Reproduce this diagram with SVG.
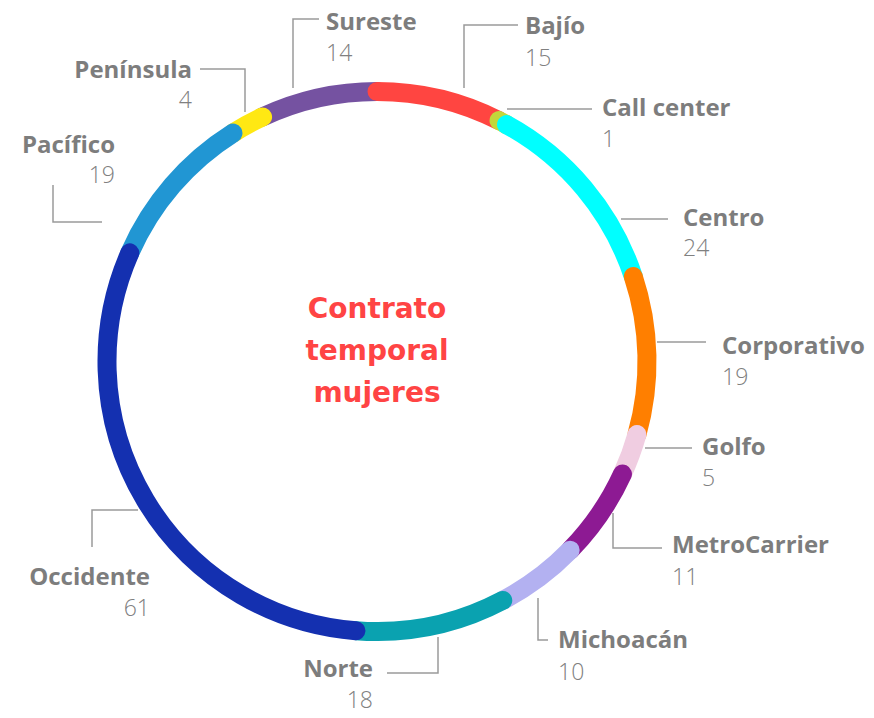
<svg xmlns="http://www.w3.org/2000/svg" width="874" height="718" viewBox="0 0 874 718">
<style>
.seg{fill:none;stroke-width:19;stroke-linecap:round}
.lead{fill:none;stroke:#9a9a9a;stroke-width:1.5}
.name{font-family:"Open Sans","Liberation Sans",sans-serif;font-weight:700;font-size:24px;fill:#7d7d7d}
.num{font-family:"Open Sans","Liberation Sans",sans-serif;font-weight:300;font-size:23px;fill:#808080}
.end{text-anchor:end}
.title{font-family:"DejaVu Sans","Liberation Sans",sans-serif;font-weight:700;font-size:28px;fill:#ff4444;text-anchor:middle}
</style>
<rect width="874" height="718" fill="#ffffff"/>
<g id="ring">
<path id="seg-sureste" class="seg" stroke="#7552a1" d="M262.57,116.94 A270,270 0 0 1 377,91.5"/>
<path id="seg-peninsula" class="seg" stroke="#ffe813" d="M232.97,133.12 A270,270 0 0 1 262.57,116.94"/>
<path id="seg-pacifico" class="seg" stroke="#2196d3" d="M129.83,252.84 A270,270 0 0 1 232.97,133.12"/>
<path id="seg-bajio" class="seg" stroke="#ff4541" d="M377,91.5 A270,270 0 0 1 499.01,120.64"/>
<path id="seg-callcenter" class="seg" stroke="#c2d73b" d="M499.01,120.64 A270,270 0 0 1 506.48,124.57"/>
<path id="seg-centro" class="seg" stroke="#00ffff" d="M506.48,124.57 A270,270 0 0 1 633.26,276.46"/>
<path id="seg-corporativo" class="seg" stroke="#ff7f00" d="M633.26,276.46 A270,270 0 0 1 636.96,434.44"/>
<path id="seg-golfo" class="seg" stroke="#f0cde1" d="M636.96,434.44 A270,270 0 0 1 622.45,474.01"/>
<path id="seg-metrocarrier" class="seg" stroke="#8d1a93" d="M622.45,474.01 A270,270 0 0 1 570.14,550.17"/>
<path id="seg-michoacan" class="seg" stroke="#b3b1f1" d="M570.14,550.17 A270,270 0 0 1 502.76,600.43"/>
<path id="seg-norte" class="seg" stroke="#0aa2b0" d="M502.76,600.43 A270,270 0 0 1 355.92,630.68"/>
<path id="seg-occidente" class="seg" stroke="#1430b0" d="M355.92,630.68 A270,270 0 0 1 129.83,252.84"/>
</g>
<g id="connectors">
<polyline class="lead" points="293,88 293,19 319,19"/>
<polyline class="lead" points="464,88 464,25 518,25"/>
<polyline class="lead" points="507,109 592,109"/>
<polyline class="lead" points="621,219 668,219"/>
<polyline class="lead" points="657,342 706,342"/>
<polyline class="lead" points="645,448 692,448"/>
<polyline class="lead" points="613,513 613,548 662,548"/>
<polyline class="lead" points="538,598 538,640 548,640"/>
<polyline class="lead" points="438,637 438,673 387,673"/>
<polyline class="lead" points="138,510 92,510 92,547"/>
<polyline class="lead" points="53,185 53,222 102,222"/>
<polyline class="lead" points="200,69 245,69 245,112"/>
</g>
<g id="title">
<text class="title" x="377" y="318">Contrato</text>
<text class="title" x="377" y="360">temporal</text>
<text class="title" x="377" y="402">mujeres</text>
</g>
<g id="label-sureste"><text class="name" x="326" y="29.5">Sureste</text><text class="num" x="326" y="60.5">14</text></g>
<g id="label-bajio"><text class="name" x="525" y="33.5">Bajío</text><text class="num" x="525" y="65.5">15</text></g>
<g id="label-callcenter"><text class="name" x="602" y="115.5">Call center</text><text class="num" x="602" y="146.5">1</text></g>
<g id="label-centro"><text class="name" x="683" y="225.5">Centro</text><text class="num" x="683" y="256">24</text></g>
<g id="label-corporativo"><text class="name" x="722" y="354">Corporativo</text><text class="num" x="722" y="385">19</text></g>
<g id="label-golfo"><text class="name" x="702" y="455">Golfo</text><text class="num" x="702" y="486">5</text></g>
<g id="label-metrocarrier"><text class="name" x="672" y="553">MetroCarrier</text><text class="num" x="672" y="585">11</text></g>
<g id="label-michoacan"><text class="name" x="558" y="648">Michoacán</text><text class="num" x="558" y="680">10</text></g>
<g id="label-norte"><text class="name end" x="373" y="677">Norte</text><text class="num end" x="373" y="708">18</text></g>
<g id="label-occidente"><text class="name end" x="150" y="585">Occidente</text><text class="num end" x="150" y="616">61</text></g>
<g id="label-pacifico"><text class="name end" x="115" y="152.5">Pacífico</text><text class="num end" x="115" y="182.5">19</text></g>
<g id="label-peninsula"><text class="name end" x="192" y="77.5">Península</text><text class="num end" x="192" y="107.5">4</text></g>
</svg>
